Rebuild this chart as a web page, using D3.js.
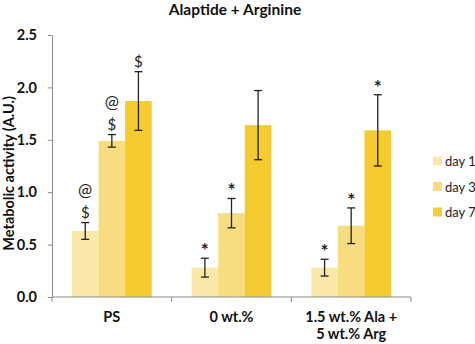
<!DOCTYPE html>
<html>
<head>
<meta charset="utf-8">
<script src="https://cdn.jsdelivr.net/npm/d3@7"></script>
<style>
  body { margin: 0; background: #fff; }
  svg text { font-family: Lato, "Open Sans", sans-serif; }
</style>
</head>
<body>
<div class="chart"></div>
<script>
const categories = ["PS", "0 wt.%", "1.5 wt.% Ala +\n5 wt.% Arg"];
const series = ["day 1", "day 3", "day 7"];
const colors = ["#f9e8a8", "#f7dd80", "#f4cb30"];
const day1 = [0.63, 0.28, 0.28];
const day3 = [1.49, 0.80, 0.68];
const day7 = [1.87, 1.64, 1.59];
const err1 = [0.08, 0.09, 0.08];
const err3 = [0.06, 0.14, 0.17];
const err7 = [0.28, 0.33, 0.34];
// marks above each bar, top line first
const marks1 = [["@", "$"], ["*"], ["*"]];
const marks3 = [["@", "$"], ["*"], ["*"]];
const marks7 = [["$"], [], ["*"]];
const yTicks = [0, 0.5, 1, 1.5, 2, 2.5];

const W = 475, H = 344;
const m = {top: 35, left: 52, right: 64, bottom: 47};

const svg = d3.select(".chart").append("svg")
  .attr("width", W).attr("height", H);

const x0 = d3.scaleBand().domain(categories).range([m.left, W - m.right]);
const x1 = d3.scaleBand().domain(series).range([0, x0.bandwidth()]).paddingOuter(0.75);
const y = d3.scaleLinear().domain([0, 2.5]).range([H - m.bottom, m.top]);

const data = [];
const vals = [day1, day3, day7], errs = [err1, err3, err7], marks = [marks1, marks3, marks7];
categories.forEach((c, i) => {
  series.forEach((s, j) => {
    data.push({cat: c, ser: s, v: vals[j][i], e: errs[j][i], marks: marks[j][i], color: colors[j]});
  });
});

// bars
svg.append("g").selectAll("rect").data(data).join("rect")
  .attr("x", d => x0(d.cat) + x1(d.ser))
  .attr("y", d => y(d.v))
  .attr("width", x1.bandwidth())
  .attr("height", d => y(0) - y(d.v))
  .attr("fill", d => d.color);

// error bars
const eg = svg.append("g").attr("stroke", "#222").attr("stroke-width", 1.3);
const markSize = {"*": 19, "$": 15, "@": 17};
data.forEach(d => {
  const cx = x0(d.cat) + x1(d.ser) + x1.bandwidth() / 2;
  eg.append("line").attr("x1", cx).attr("x2", cx).attr("y1", y(d.v + d.e)).attr("y2", y(d.v - d.e));
  eg.append("line").attr("x1", cx - 4).attr("x2", cx + 4).attr("y1", y(d.v + d.e)).attr("y2", y(d.v + d.e));
  eg.append("line").attr("x1", cx - 4).attr("x2", cx + 4).attr("y1", y(d.v - d.e)).attr("y2", y(d.v - d.e));
  // annotations
  const n = d.marks.length;
  d.marks.forEach((t, k) => {
    const star = t === "*";
    svg.append("text")
      .attr("x", cx)
      .attr("y", y(d.v + d.e) - (star ? 1 : 5) - (n - 1 - k) * 22)
      .attr("text-anchor", "middle")
      .attr("font-size", markSize[t])
      .attr("font-weight", star ? "bold" : "normal")
      .attr("fill", "#222")
      .text(t);
  });
});

// y axis
const yAxis = svg.append("g")
  .attr("transform", `translate(${m.left},0)`)
  .call(d3.axisLeft(y).tickValues(yTicks).tickFormat(d3.format(".1f")).tickSize(4).tickSizeOuter(0));
yAxis.select(".domain").attr("stroke", "#8c8c8c");
yAxis.selectAll(".tick line").attr("stroke", "#8c8c8c");
yAxis.selectAll(".tick text").attr("font-size", 14.5).attr("font-weight", "bold").attr("fill", "#111").attr("dx", -8);

// x axis
const xg = svg.append("g").attr("transform", `translate(0,${y(0)})`);
xg.append("line").attr("x1", m.left).attr("x2", W - m.right).attr("stroke", "#8c8c8c");
const bounds = categories.map(c => x0(c)).concat([x0(categories[categories.length - 1]) + x0.bandwidth()]);
xg.selectAll("line.tk").data(bounds).join("line").attr("class", "tk")
  .attr("x1", d => d).attr("x2", d => d).attr("y1", 0).attr("y2", 5).attr("stroke", "#8c8c8c");
categories.forEach(c => {
  const lines = c.split("\n");
  const t = xg.append("text")
    .attr("x", x0(c) + x0.bandwidth() / 2)
    .attr("y", 25)
    .attr("text-anchor", "middle")
    .attr("font-size", 14.5).attr("font-weight", "bold").attr("fill", "#111");
  lines.forEach((l, k) => t.append("tspan").attr("x", x0(c) + x0.bandwidth() / 2).attr("dy", k ? 17 : 0).text(l));
});

// title
svg.append("text").attr("x", 235).attr("y", 14.5).attr("text-anchor", "middle")
  .attr("font-size", 15.5).attr("font-weight", "bold").attr("fill", "#111")
  .text("Alaptide + Arginine");

// y label
svg.append("text")
  .attr("transform", `translate(14,${y(1.18)}) rotate(-90)`)
  .attr("text-anchor", "middle")
  .attr("font-size", 14.5).attr("font-weight", "bold").attr("fill", "#111")
  .text("Metabolic activity (A.U.)");

// legend
const lg = svg.append("g").attr("transform", "translate(433,161)");
series.forEach((s, i) => {
  const g = lg.append("g").attr("transform", `translate(0,${i * 25.5})`);
  g.append("rect").attr("x", 0).attr("y", -4.5).attr("width", 9).attr("height", 9).attr("fill", colors[i]);
  g.append("text").attr("x", 12).attr("y", 5).attr("font-size", 13).attr("fill", "#222").text(s);
});
</script>
</body>
</html>
